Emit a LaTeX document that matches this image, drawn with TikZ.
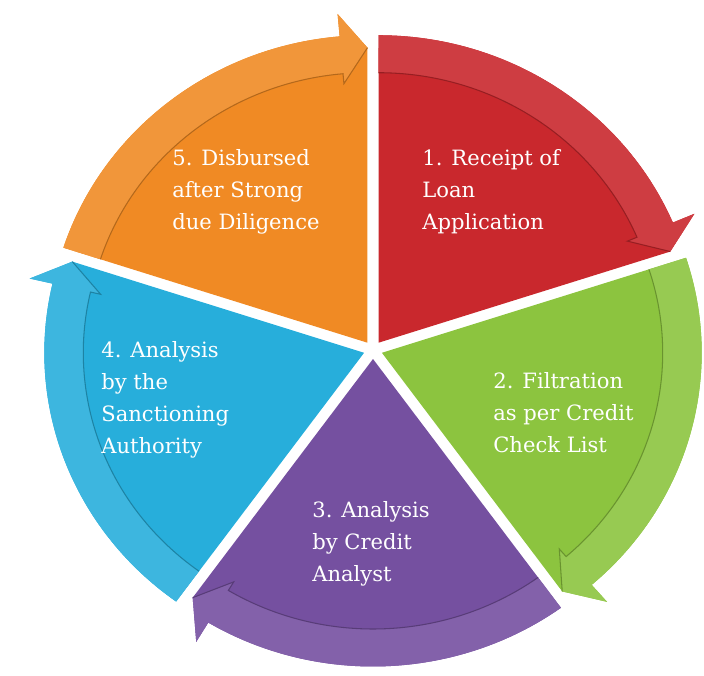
\documentclass[tikz,border=0pt]{standalone}
\usepackage{fontspec}
\setmainfont{DejaVu Serif}
\usepackage{xcolor}
\usepackage{tikz}
\usetikzlibrary{positioning,calc}

\definecolor{loanred}{HTML}{C9282D}
\definecolor{loangreen}{HTML}{8CC43F}
\definecolor{loanpurple}{HTML}{7550A0}
\definecolor{loancyan}{HTML}{27AEDB}
\definecolor{loanorange}{HTML}{F08A24}

\newcommand{\rout}{6.15}
\newcommand{\rin}{5.4}
\newcommand{\rtip}{5.9}
\newcommand{\rbarb}{6.6}
\newcommand{\rinb}{5.2}

% one piece of the cycle: #1 start angle, #2 end angle, #3 colour
\newcommand{\loanpiece}[3]{%
  \begin{scope}[shift={({(#1+#2)/2}:0.18)}]
    \fill[#3] (0,0) -- (#1:\rout) arc[start angle=#1, end angle={#2+5}, radius=\rout]
      -- ({#2+5}:\rbarb) -- (#2:\rtip) -- cycle;
    \fill[#3!90!white] (#1:\rout) arc[start angle=#1, end angle={#2+5}, radius=\rout]
      -- ({#2+5}:\rbarb) -- (#2:\rtip) -- ({#2+5}:\rinb) -- ({#2+5}:\rin)
      arc[start angle={#2+5}, end angle=#1, radius=\rin] -- cycle;
    \draw[#3!75!black, line width=0.6pt] (#1:\rin) arc[start angle=#1, end angle={#2+5}, radius=\rin]
      -- ({#2+5}:\rinb) -- (#2:\rtip);
  \end{scope}}

\tikzset{steptext/.style={anchor=north west, align=left, inner sep=0pt, text=white,
  font=\fontsize{12}{18.2}\selectfont}}

\begin{document}
\begin{tikzpicture}
    \useasboundingbox (-7.46,-6.5) rectangle (6.62,7.0);

    \begin{scope}[xscale=1.04]
        \loanpiece{90}{18}{loanred}
        \loanpiece{18}{-54}{loangreen}
        \loanpiece{-54}{-126}{loanpurple}
        \loanpiece{234}{162}{loancyan}
        \loanpiece{162}{90}{loanorange}
    \end{scope}

    % labels
    \node[steptext] (receipt) at (0.98,4.02) {1. Receipt of\\Loan\\Application};
    \node[steptext] (filtration) at (2.40,-0.44) {2. Filtration\\as per Credit\\Check List};
    \node[steptext] (analyst) at (-1.22,-3.02) {3. Analysis\\by Credit\\Analyst};
    \node[steptext] (authority) at (-5.44,0.18) {4. Analysis\\by the\\Sanctioning\\Authority};
    \node[steptext] (disbursed) at (-4.02,4.02) {5. Disbursed\\after Strong\\due Diligence};
\end{tikzpicture}
\end{document}
